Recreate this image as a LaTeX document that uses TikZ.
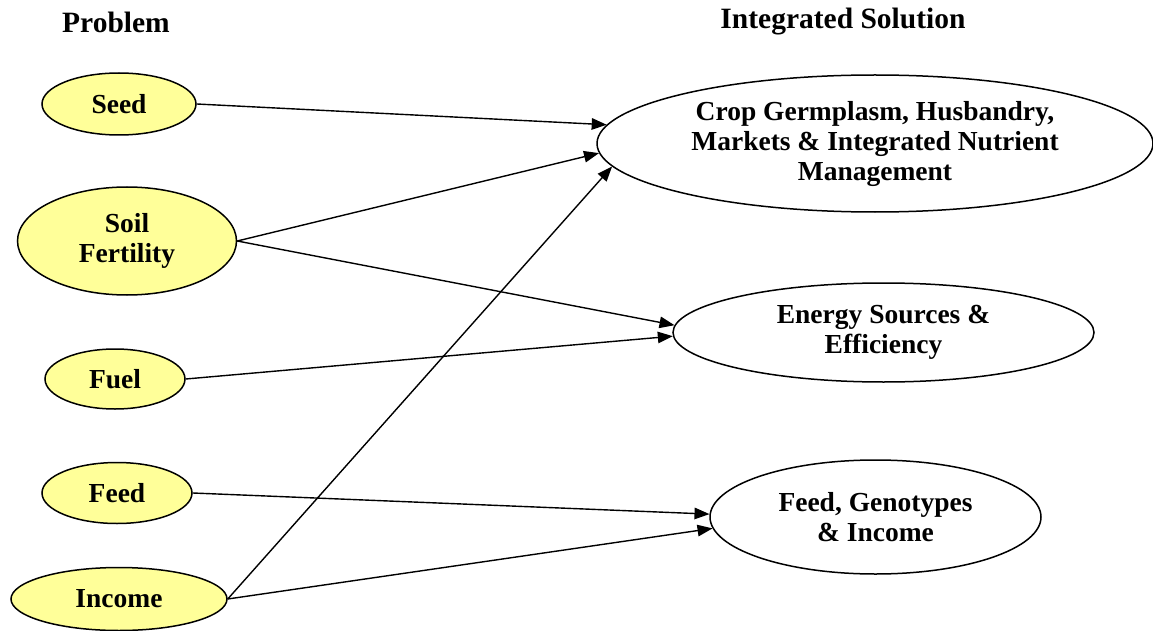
\documentclass[tikz,border=0pt]{standalone}
\usepackage{fontspec}
\setmainfont{Liberation Serif}
\usetikzlibrary{shapes.geometric,arrows.meta}
\definecolor{paleyellow}{RGB}{255,255,153}

\begin{document}
\begin{tikzpicture}[x=1pt,y=-1pt,
  every node/.style = {align=center,
    font=\fontsize{27.5}{30}\selectfont\bfseries},
  heading/.style = {font=\fontsize{29.5}{32}\selectfont\bfseries},
  problem/.style = {shape=ellipse, draw, line width=1.5pt,
    fill=paleyellow, inner sep=0pt},
  solution/.style = {shape=ellipse, draw, line width=1.5pt, inner sep=0pt},
  link/.style = {-{Triangle[length=15pt,width=11.5pt]}, line width=1.4pt}]
  \useasboundingbox (0,0) rectangle (1153,631);
  % headings
  \node[heading] (problem) at (116,22) {Problem};
  \node[heading] (solution) at (843,22) {Integrated Solution};
  % problems
  \node[problem, minimum width=154pt, minimum height=62pt] (seed) at (119,104) {Seed};
  \node[problem, minimum width=219pt, minimum height=108pt] (soil) at (127,241) {Soil \\ Fertility};
  \node[problem, minimum width=140pt, minimum height=60pt] (fuel) at (115,379) {Fuel};
  \node[problem, minimum width=150pt, minimum height=61pt] (feed) at (117,493) {Feed};
  \node[problem, minimum width=216pt, minimum height=63pt] (income) at (119,599) {Income};
  % solutions
  \node[solution, minimum width=556pt, minimum height=137pt] (crop) at (875,143.5)
    {Crop Germplasm, Husbandry, \\ Markets \& Integrated Nutrient \\ Management};
  \node[solution, minimum width=421pt, minimum height=99pt] (energy) at (883.5,332.5)
    {Energy Sources \& \\ Efficiency};
  \node[solution, minimum width=331pt, minimum height=114pt] (genotypes) at (875.5,517)
    {Feed, Genotypes \\ \& Income};
  % links
  \draw[link] (seed.east) -- (crop.176.8);
  \draw[link] (soil.east) -- (crop.182);
  \draw[link] (soil.east) -- (energy.178.5);
  \draw[link] (fuel.east) -- (energy.181.5);
  \draw[link] (income.east) -- (crop.185);
  \draw[link] (feed.east) -- (genotypes.179.3);
  \draw[link] (income.east) -- (genotypes.184.5);
\end{tikzpicture}
\end{document}
